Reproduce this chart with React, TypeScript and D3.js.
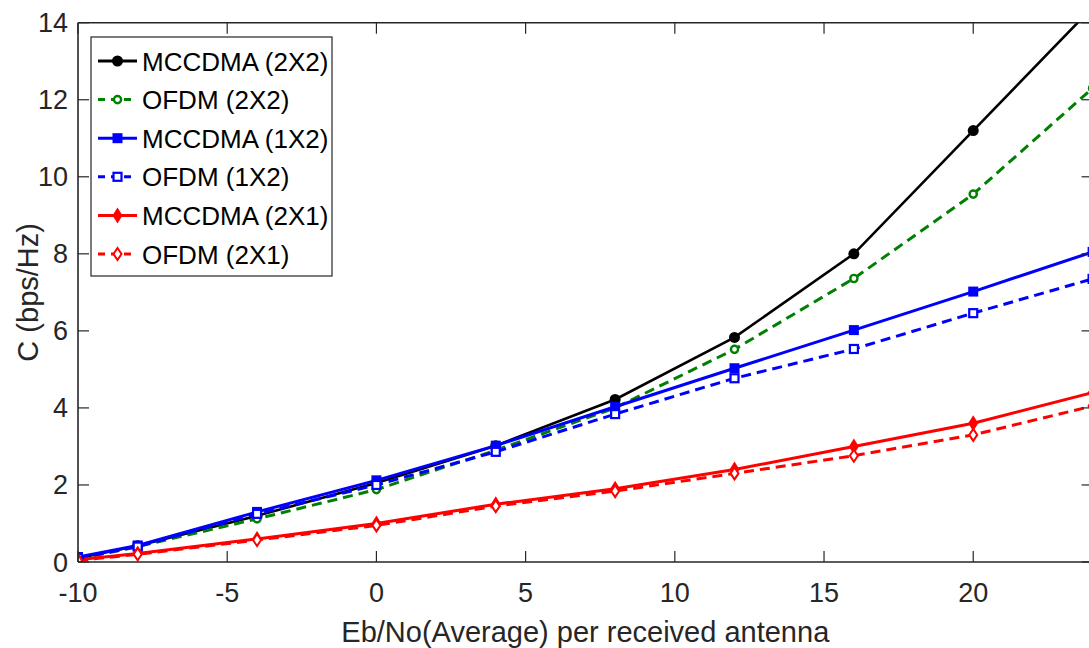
import React from "react";
import * as d3 from "d3";

const xValues = [-10, -8, -4, 0, 4, 8, 12, 16, 20, 24];
const mccdma2x2 = [0.1, 0.42, 1.2, 2.05, 3.02, 4.22, 5.83, 8.0, 11.2, 14.4];
const ofdm2x2 = [0.08, 0.4, 1.12, 1.88, 2.9, 4.0, 5.52, 7.36, 9.55, 12.3];
const mccdma1x2 = [0.13, 0.43, 1.3, 2.12, 3.02, 4.03, 5.03, 6.02, 7.02, 8.05];
const ofdm1x2 = [0.1, 0.4, 1.25, 2.0, 2.86, 3.84, 4.77, 5.53, 6.46, 7.35];
const mccdma2x1 = [0.06, 0.22, 0.6, 1.0, 1.5, 1.9, 2.4, 3.0, 3.6, 4.4];
const ofdm2x1 = [0.04, 0.2, 0.57, 0.95, 1.45, 1.84, 2.3, 2.76, 3.3, 4.05];

const seriesNames = ["MCCDMA (2X2)", "OFDM (2X2)", "MCCDMA (1X2)", "OFDM (1X2)", "MCCDMA (2X1)", "OFDM (2X1)"];
const seriesValues = [mccdma2x2, ofdm2x2, mccdma1x2, ofdm1x2, mccdma2x1, ofdm2x1];
const seriesColors = ["#000000", "#008000", "#0000ff", "#0000ff", "#ff0000", "#ff0000"];
const seriesDashed = [false, true, false, true, false, true];
const seriesMarkers = ["dot", "ocircle", "square", "osquare", "diamond", "odiamond"];

const xTicks = [-10, -5, 0, 5, 10, 15, 20];
const yTicks = [0, 2, 4, 6, 8, 10, 12, 14];
const xLabel = "Eb/No(Average) per received antenna";
const yLabel = "C (bps/Hz)";

const W = 1089;
const H = 648;
const left = 78;
const right = 1092.6;
const top = 22.7;
const bottom = 562;
const FONT = "'Liberation Sans', Arial, sans-serif";
const AX = "#262626";

function Marker({ type, x, y, color }: { type: string; x: number; y: number; color: string }) {
  switch (type) {
    case "dot":
      return <circle cx={x} cy={y} r={5.5} fill={color} />;
    case "ocircle":
      return <circle cx={x} cy={y} r={3.6} fill="white" stroke={color} strokeWidth={2.4} />;
    case "square":
      return <rect x={x - 5} y={y - 5} width={10} height={10} fill={color} />;
    case "osquare":
      return <rect x={x - 4} y={y - 4} width={8} height={8} fill="white" stroke={color} strokeWidth={2.2} />;
    case "diamond":
      return <path d={`M${x},${y - 8} L${x + 5},${y} L${x},${y + 8} L${x - 5},${y} Z`} fill={color} />;
    case "odiamond":
      return (
        <path d={`M${x},${y - 6} L${x + 4},${y} L${x},${y + 6} L${x - 4},${y} Z`} fill="white" stroke={color} strokeWidth={2} />
      );
    default:
      return null;
  }
}

export default function App() {
  const xs = d3.scaleLinear().domain([-10, 24]).range([left, right]);
  const ys = d3.scaleLinear().domain([0, 14]).range([bottom, top]);
  const line = d3
    .line<number>()
    .x((_, i) => xs(xValues[i]))
    .y((d) => ys(d));

  const legX = 91;
  const legY = 37;
  const legW = 241;
  const legH = 239;
  const rowH = 38.6;

  return (
    <svg width={W} height={H} style={{ position: "absolute", left: 0, top: 0, background: "white" }} fontFamily={FONT}>
      <defs>
        <clipPath id="plotClip">
          <rect x={left} y={top} width={right - left} height={bottom - top} />
        </clipPath>
      </defs>
      <rect x={0} y={0} width={W} height={H} fill="white" />

      <g clipPath="url(#plotClip)">
        {seriesValues.map((vals, si) => (
          <path
            key={"l" + si}
            d={line(vals) || ""}
            fill="none"
            stroke={seriesColors[si]}
            strokeWidth={si === 0 ? 2.6 : 3}
            strokeDasharray={seriesDashed[si] ? "10,6" : undefined}
          />
        ))}
        {seriesValues.map((vals, si) => (
          <g key={"m" + si}>
            {vals.map((v, i) => (
              <Marker key={i} type={seriesMarkers[si]} x={xs(xValues[i])} y={ys(v)} color={seriesColors[si]} />
            ))}
          </g>
        ))}
      </g>

      <g stroke={AX} strokeWidth={1.6} fill="none">
        <line x1={left} y1={bottom} x2={right} y2={bottom} />
        <line x1={left} y1={top} x2={right} y2={top} />
        <line x1={left} y1={top} x2={left} y2={bottom} />
        <line x1={right} y1={top} x2={right} y2={bottom} />
        {xTicks.map((t) => (
          <g key={"xt" + t}>
            <line x1={xs(t)} y1={bottom} x2={xs(t)} y2={bottom - 11} strokeWidth={1.2} />
            <line x1={xs(t)} y1={top} x2={xs(t)} y2={top + 11} strokeWidth={1.2} />
          </g>
        ))}
        {yTicks.map((t) => (
          <g key={"yt" + t}>
            <line x1={left} y1={ys(t)} x2={left + 11} y2={ys(t)} strokeWidth={1.2} />
            <line x1={right} y1={ys(t)} x2={right - 11} y2={ys(t)} strokeWidth={1.2} />
          </g>
        ))}
      </g>

      {xTicks.map((t) => (
        <text key={"xl" + t} x={xs(t)} y={602} textAnchor="middle" fontSize={27} fill={AX}>
          {t}
        </text>
      ))}
      {yTicks.map((t) => (
        <text key={"yl" + t} x={68} y={ys(t) + 9.5} textAnchor="end" fontSize={27} fill={AX}>
          {t}
        </text>
      ))}

      <text x={(left + right) / 2} y={642} textAnchor="middle" fontSize={29} fill={AX}>
        {xLabel}
      </text>
      <text
        transform={`translate(38, ${(top + bottom) / 2}) rotate(-90)`}
        textAnchor="middle"
        fontSize={29}
        fill={AX}
      >
        {yLabel}
      </text>

      <rect x={legX} y={legY} width={legW} height={legH} fill="white" stroke={AX} strokeWidth={1.2} />
      {seriesNames.map((name, si) => {
        const cy = legY + 24 + si * rowH;
        return (
          <g key={"lg" + si}>
            <line
              x1={98}
              y1={cy}
              x2={137}
              y2={cy}
              stroke={seriesColors[si]}
              strokeWidth={3}
              strokeDasharray={seriesDashed[si] ? "7,6" : undefined}
            />
            <Marker type={seriesMarkers[si]} x={117.5} y={cy} color={seriesColors[si]} />
            <text x={142} y={cy + 9.5} fontSize={26} fill="#000">
              {name}
            </text>
          </g>
        );
      })}
    </svg>
  );
}
